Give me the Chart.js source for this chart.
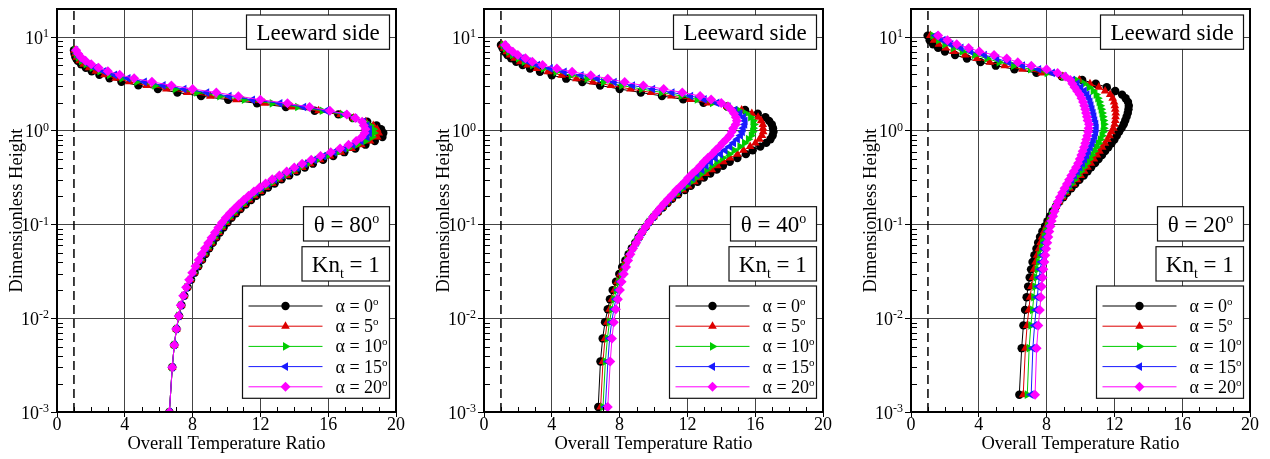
<!DOCTYPE html>
<html>
<head>
<meta charset="utf-8">
<script src="https://cdn.jsdelivr.net/npm/chart.js@4.4.0/dist/chart.umd.min.js"></script>
<style>
  body { margin: 0; background: #fff; width: 1270px; height: 459px; position: relative; overflow: hidden; }
  canvas { position: absolute; top: 0; }
</style>
</head>
<body>
<canvas id="theta80" width="420" height="459" style="left:0px"></canvas>
<canvas id="theta40" width="420" height="459" style="left:420px"></canvas>
<canvas id="theta20" width="430" height="459" style="left:840px"></canvas>
<script>
// ---- axes ----
const xTicks = [0, 4, 8, 12, 16, 20];
const yTicks = [0.001, 0.01, 0.1, 1, 10];
const yExps = ['-3', '-2', '-1', '0', '1'];
const yMin = 0.001, yMax = 20;
const wallRatio = 1;   // dashed reference line
const alphas = ['0', '5', '10', '15', '20'];

// ---- theta = 80 deg ----
const h80 = [0.001, 0.003, 0.0052, 0.0077, 0.0106, 0.0138, 0.0174, 0.0214, 0.0258, 0.0306,
  0.036, 0.042, 0.0486, 0.0558, 0.0638, 0.0726, 0.0823, 0.093, 0.105, 0.118,
  0.132, 0.147, 0.164, 0.183, 0.203, 0.225, 0.249, 0.275, 0.304, 0.335,
  0.369, 0.406, 0.447, 0.492, 0.54, 0.593, 0.65, 0.713, 0.78, 0.86,
  0.95, 1.04, 1.14, 1.25, 1.37, 1.5, 1.64, 1.8, 1.97, 2.15,
  2.35, 2.57, 2.8, 3.06, 3.34, 3.64, 3.97, 4.33, 4.72, 5.15,
  5.6, 6.1, 6.65, 7.25];
const t80a0 = [6.63, 6.80, 6.92, 7.05, 7.20, 7.34, 7.51, 7.70, 7.91, 8.12,
  8.34, 8.56, 8.77, 8.98, 9.19, 9.40, 9.61, 9.83, 10.06, 10.30,
  10.56, 10.83, 11.13, 11.45, 11.76, 12.10, 12.45, 12.84, 13.25, 13.70,
  14.15, 14.62, 15.10, 15.70, 16.30, 16.95, 17.60, 18.20, 18.75, 19.20,
  19.25, 19.12, 18.85, 18.30, 17.45, 16.60, 15.20, 13.50, 11.80, 10.10,
  8.50, 7.10, 5.95, 4.80, 3.80, 3.10, 2.50, 2.05, 1.70, 1.42,
  1.22, 1.09, 1.03, 1.00];
const t80a5 = [6.63, 6.80, 6.92, 7.05, 7.20, 7.33, 7.50, 7.68, 7.88, 8.08,
  8.30, 8.51, 8.71, 8.92, 9.12, 9.33, 9.54, 9.75, 9.98, 10.22,
  10.47, 10.74, 11.03, 11.34, 11.65, 11.98, 12.33, 12.71, 13.11, 13.56,
  14.00, 14.47, 14.94, 15.52, 16.11, 16.75, 17.38, 17.95, 18.47, 18.90,
  18.98, 18.89, 18.66, 18.22, 17.49, 16.73, 15.43, 13.85, 12.25, 10.58,
  9.05, 7.68, 6.46, 5.29, 4.25, 3.46, 2.80, 2.29, 1.89, 1.57,
  1.34, 1.17, 1.09, 1.03];
const t80a10 = [6.63, 6.80, 6.92, 7.05, 7.19, 7.32, 7.48, 7.66, 7.86, 8.05,
  8.26, 8.46, 8.66, 8.86, 9.06, 9.26, 9.47, 9.68, 9.90, 10.13,
  10.38, 10.64, 10.93, 11.23, 11.53, 11.86, 12.20, 12.58, 12.98, 13.41,
  13.85, 14.31, 14.78, 15.35, 15.93, 16.55, 17.15, 17.70, 18.20, 18.59,
  18.70, 18.66, 18.48, 18.15, 17.53, 16.85, 15.65, 14.20, 12.70, 11.05,
  9.60, 8.25, 6.98, 5.78, 4.70, 3.83, 3.10, 2.53, 2.08, 1.72,
  1.45, 1.26, 1.14, 1.07];
const t80a15 = [6.63, 6.80, 6.92, 7.04, 7.19, 7.31, 7.47, 7.64, 7.83, 8.02,
  8.21, 8.41, 8.60, 8.79, 8.99, 9.19, 9.39, 9.60, 9.82, 10.05,
  10.29, 10.55, 10.83, 11.12, 11.42, 11.74, 12.08, 12.44, 12.84, 13.27,
  13.70, 14.16, 14.62, 15.18, 15.74, 16.35, 16.93, 17.45, 17.93, 18.29,
  18.43, 18.43, 18.29, 18.08, 17.56, 16.98, 15.88, 14.55, 13.15, 11.53,
  10.15, 8.83, 7.49, 6.26, 5.15, 4.19, 3.40, 2.76, 2.26, 1.87,
  1.57, 1.34, 1.20, 1.10];
const t80a20 = [6.63, 6.80, 6.92, 7.04, 7.18, 7.30, 7.45, 7.62, 7.80, 7.98,
  8.17, 8.36, 8.54, 8.73, 8.92, 9.12, 9.32, 9.52, 9.74, 9.96,
  10.20, 10.45, 10.72, 11.01, 11.30, 11.62, 11.95, 12.31, 12.70, 13.12,
  13.55, 14.00, 14.46, 15.00, 15.55, 16.15, 16.70, 17.20, 17.65, 17.98,
  18.15, 18.20, 18.10, 18.00, 17.60, 17.10, 16.10, 14.90, 13.60, 12.00,
  10.70, 9.40, 8.00, 6.75, 5.60, 4.55, 3.70, 3.00, 2.45, 2.02,
  1.68, 1.42, 1.25, 1.13];

// ---- theta = 40 deg ----
const h40 = [0.00113, 0.00346, 0.0061, 0.0091, 0.0125, 0.016, 0.020, 0.0246, 0.0297, 0.0352,
  0.0414, 0.0483, 0.0559, 0.0642, 0.0734, 0.0835, 0.0946, 0.107, 0.121, 0.136,
  0.152, 0.17, 0.189, 0.21, 0.234, 0.259, 0.287, 0.317, 0.35, 0.386,
  0.425, 0.468, 0.514, 0.565, 0.62, 0.68, 0.745, 0.816, 0.893, 0.977,
  1.07, 1.17, 1.28, 1.4, 1.53, 1.67, 1.82, 1.99, 2.17, 2.36,
  2.57, 2.8, 3.05, 3.32, 3.61, 3.93, 4.27, 4.64, 5.04, 5.48,
  5.95, 6.46, 7.01, 7.6, 8.25];
const t40a0 = [6.74, 6.87, 7.00, 7.14, 7.30, 7.43, 7.59, 7.79, 7.98, 8.15,
  8.34, 8.53, 8.72, 8.92, 9.12, 9.32, 9.54, 9.75, 10.00, 10.27,
  10.55, 10.83, 11.10, 11.45, 11.85, 12.20, 12.60, 12.97, 13.35, 13.73,
  14.10, 14.50, 14.95, 15.45, 15.85, 16.30, 16.65, 16.90, 17.03, 17.08,
  17.05, 16.98, 16.82, 16.60, 16.15, 15.40, 14.35, 12.95, 11.75, 10.50,
  9.25, 8.00, 6.85, 5.80, 4.85, 4.00, 3.30, 2.72, 2.28, 1.90,
  1.60, 1.38, 1.22, 1.10, 1.00];
const t40a5 = [6.88, 7.02, 7.14, 7.27, 7.42, 7.55, 7.70, 7.87, 8.05, 8.21,
  8.38, 8.56, 8.74, 8.94, 9.13, 9.32, 9.54, 9.75, 10.00, 10.25,
  10.52, 10.79, 11.05, 11.37, 11.73, 12.05, 12.41, 12.74, 13.09, 13.44,
  13.77, 14.12, 14.51, 14.95, 15.31, 15.70, 16.01, 16.25, 16.40, 16.47,
  16.46, 16.45, 16.35, 16.17, 15.80, 15.20, 14.36, 13.21, 12.16, 11.06,
  9.86, 8.65, 7.49, 6.43, 5.46, 4.58, 3.78, 3.12, 2.57, 2.14,
  1.81, 1.54, 1.34, 1.18, 1.06];
const t40a10 = [7.02, 7.16, 7.28, 7.40, 7.54, 7.67, 7.81, 7.96, 8.12, 8.27,
  8.42, 8.59, 8.76, 8.95, 9.14, 9.33, 9.54, 9.75, 9.99, 10.24,
  10.49, 10.74, 10.99, 11.29, 11.60, 11.90, 12.23, 12.51, 12.83, 13.14,
  13.44, 13.74, 14.08, 14.45, 14.76, 15.10, 15.37, 15.60, 15.77, 15.85,
  15.88, 15.92, 15.87, 15.73, 15.45, 15.00, 14.38, 13.48, 12.58, 11.63,
  10.48, 9.30, 8.13, 7.05, 6.08, 5.15, 4.25, 3.51, 2.87, 2.38,
  2.03, 1.69, 1.46, 1.26, 1.13];
const t40a15 = [7.16, 7.31, 7.41, 7.53, 7.66, 7.78, 7.91, 8.04, 8.18, 8.32,
  8.46, 8.61, 8.78, 8.97, 9.14, 9.33, 9.53, 9.75, 9.98, 10.22,
  10.45, 10.70, 10.94, 11.20, 11.48, 11.75, 12.04, 12.28, 12.56, 12.85,
  13.10, 13.36, 13.64, 13.95, 14.22, 14.50, 14.72, 14.95, 15.13, 15.24,
  15.29, 15.38, 15.40, 15.30, 15.10, 14.80, 14.39, 13.74, 12.99, 12.19,
  11.09, 9.95, 8.76, 7.68, 6.69, 5.73, 4.73, 3.91, 3.16, 2.61,
  2.24, 1.85, 1.58, 1.34, 1.19];
const t40a20 = [7.30, 7.45, 7.55, 7.66, 7.78, 7.90, 8.02, 8.12, 8.25, 8.38,
  8.50, 8.64, 8.80, 8.98, 9.15, 9.33, 9.53, 9.75, 9.98, 10.20,
  10.42, 10.65, 10.88, 11.12, 11.35, 11.60, 11.85, 12.05, 12.30, 12.55,
  12.77, 12.98, 13.20, 13.45, 13.67, 13.90, 14.08, 14.30, 14.50, 14.62,
  14.70, 14.85, 14.92, 14.86, 14.75, 14.60, 14.40, 14.00, 13.40, 12.75,
  11.70, 10.60, 9.40, 8.30, 7.30, 6.30, 5.20, 4.30, 3.45, 2.85,
  2.45, 2.00, 1.70, 1.42, 1.25];

// ---- theta = 20 deg ----
const h20 = [0.00153, 0.0048, 0.0084, 0.0123, 0.0168, 0.0218, 0.0273, 0.0333, 0.0399, 0.0472,
  0.0552, 0.064, 0.0737, 0.0844, 0.0961, 0.109, 0.123, 0.139, 0.156, 0.175,
  0.196, 0.219, 0.244, 0.271, 0.301, 0.334, 0.37, 0.41, 0.453, 0.5,
  0.552, 0.608, 0.67, 0.737, 0.81, 0.89, 0.978, 1.07, 1.18, 1.29,
  1.42, 1.55, 1.7, 1.86, 2.04, 2.23, 2.44, 2.67, 2.92, 3.19,
  3.49, 3.81, 4.16, 4.55, 4.97, 5.42, 5.92, 6.46, 7.05, 7.69,
  8.39, 9.3, 10.4];
const t20a0 = [6.39, 6.53, 6.63, 6.73, 6.82, 6.91, 7.00, 7.08, 7.17, 7.28,
  7.40, 7.50, 7.61, 7.75, 7.91, 8.05, 8.20, 8.36, 8.55, 8.75,
  8.99, 9.21, 9.46, 9.69, 9.94, 10.19, 10.42, 10.63, 10.86, 11.07,
  11.27, 11.45, 11.64, 11.83, 12.00, 12.14, 12.28, 12.42, 12.55, 12.64,
  12.72, 12.79, 12.83, 12.85, 12.80, 12.66, 12.45, 12.05, 11.55, 10.90,
  10.10, 8.90, 7.40, 6.10, 5.00, 4.10, 3.30, 2.60, 2.00, 1.60,
  1.30, 1.10, 0.98];
const t20a5 = [6.62, 6.75, 6.85, 6.95, 7.03, 7.11, 7.19, 7.26, 7.35, 7.44,
  7.55, 7.64, 7.73, 7.85, 7.99, 8.11, 8.25, 8.39, 8.55, 8.73,
  8.94, 9.14, 9.36, 9.57, 9.79, 10.01, 10.22, 10.41, 10.61, 10.79,
  10.97, 11.12, 11.28, 11.44, 11.59, 11.71, 11.82, 11.94, 12.01, 12.05,
  12.07, 12.08, 12.05, 12.03, 11.98, 11.90, 11.75, 11.45, 11.08, 10.56,
  9.93, 8.95, 7.71, 6.58, 5.53, 4.65, 3.89, 3.18, 2.51, 2.05,
  1.65, 1.36, 1.14];
const t20a10 = [6.86, 6.97, 7.07, 7.17, 7.24, 7.31, 7.38, 7.45, 7.52, 7.60,
  7.69, 7.77, 7.86, 7.96, 8.07, 8.18, 8.29, 8.42, 8.56, 8.71,
  8.89, 9.07, 9.26, 9.45, 9.64, 9.83, 10.01, 10.19, 10.36, 10.52,
  10.66, 10.79, 10.93, 11.06, 11.17, 11.27, 11.33, 11.37, 11.38, 11.35,
  11.31, 11.27, 11.22, 11.16, 11.10, 11.02, 10.92, 10.75, 10.50, 10.21,
  9.75, 9.00, 8.03, 7.05, 6.05, 5.20, 4.48, 3.75, 3.02, 2.50,
  2.00, 1.63, 1.29];
const t20a15 = [7.09, 7.19, 7.29, 7.38, 7.45, 7.51, 7.57, 7.63, 7.70, 7.76,
  7.84, 7.91, 7.98, 8.06, 8.15, 8.24, 8.34, 8.44, 8.56, 8.68,
  8.83, 8.99, 9.16, 9.32, 9.48, 9.64, 9.81, 9.96, 10.11, 10.24,
  10.36, 10.46, 10.57, 10.67, 10.76, 10.84, 10.89, 10.92, 10.90, 10.84,
  10.79, 10.74, 10.68, 10.62, 10.56, 10.48, 10.38, 10.22, 10.02, 9.80,
  9.52, 9.05, 8.34, 7.53, 6.58, 5.75, 5.06, 4.33, 3.52, 2.95,
  2.35, 1.89, 1.45];
const t20a20 = [7.32, 7.41, 7.51, 7.60, 7.66, 7.71, 7.76, 7.81, 7.87, 7.92,
  7.98, 8.04, 8.10, 8.16, 8.23, 8.30, 8.38, 8.47, 8.56, 8.66,
  8.78, 8.92, 9.06, 9.20, 9.33, 9.46, 9.60, 9.74, 9.86, 9.96,
  10.05, 10.13, 10.21, 10.28, 10.34, 10.40, 10.45, 10.48, 10.50, 10.42,
  10.38, 10.33, 10.28, 10.22, 10.15, 10.06, 9.95, 9.80, 9.65, 9.52,
  9.40, 9.10, 8.65, 8.00, 7.10, 6.30, 5.65, 4.90, 4.03, 3.40,
  2.70, 2.15, 1.60];

// ---- look ----
const FONT = "'Liberation Serif', 'Times New Roman', serif";
const seriesColors = ['#000000', '#dd0000', '#00cc00', '#1a1aff', '#ff00ff'];
const pointStyles = ['circle', 'triangle', 'triangle', 'triangle', 'rectRot'];
const pointRotations = [0, 0, 90, -90, 0];
const pointSizes = [4.2, 5, 5, 5, 5];
const gridColor = '#444444';

function richText(ctx, parts, x, y, align) {
  let w = 0;
  parts.forEach(p => { ctx.font = p[1] + 'px ' + FONT; w += ctx.measureText(p[0]).width; });
  let cx = align === 'center' ? x - w / 2 : align === 'right' ? x - w : x;
  ctx.textAlign = 'left';
  ctx.textBaseline = 'alphabetic';
  ctx.fillStyle = '#000';
  parts.forEach(p => {
    ctx.font = p[1] + 'px ' + FONT;
    ctx.fillText(p[0], cx, y + (p[2] || 0));
    cx += ctx.measureText(p[0]).width;
  });
}

function drawMarker(ctx, style, x, y, r, rot, color) {
  ctx.save();
  ctx.fillStyle = color;
  ctx.translate(x, y);
  ctx.rotate(rot * Math.PI / 180);
  ctx.beginPath();
  if (style === 'circle') {
    ctx.arc(0, 0, r, 0, Math.PI * 2);
  } else if (style === 'triangle') {
    for (let k = 0; k < 3; k++) {
      const a = k * 2 * Math.PI / 3;
      ctx.lineTo(r * Math.sin(a), -r * Math.cos(a));
    }
  } else {
    ctx.moveTo(-r, 0); ctx.lineTo(0, -r); ctx.lineTo(r, 0); ctx.lineTo(0, r);
  }
  ctx.closePath();
  ctx.fill();
  ctx.restore();
}

function box(ctx, x, y, w, h) {
  ctx.fillStyle = '#fff';
  ctx.fillRect(x, y, w, h);
  ctx.strokeStyle = '#111';
  ctx.lineWidth = 1.2;
  ctx.strokeRect(x, y, w, h);
}

function decorPlugin(theta) {
  return {
    id: 'panelDecor',
    afterDatasetsDraw(chart) {
      const { ctx, chartArea: a, scales: { x, y } } = chart;
      ctx.save();

      // minor ticks, pointing inward
      ctx.strokeStyle = '#000';
      ctx.lineWidth = 1;
      ctx.beginPath();
      for (let v = 1; v < 20; v++) {
        if (v % 4 === 0) continue;
        const px = Math.round(x.getPixelForValue(v)) + 0.5;
        ctx.moveTo(px, a.bottom); ctx.lineTo(px, a.bottom - 5);
      }
      for (let d = -3; d <= 1; d++) {
        for (let m = 2; m <= 9; m++) {
          const v = m * Math.pow(10, d);
          if (v >= yMax) continue;
          const py = Math.round(y.getPixelForValue(v)) + 0.5;
          ctx.moveTo(a.left, py); ctx.lineTo(a.left + 6, py);
        }
      }
      ctx.stroke();

      // frame
      ctx.lineWidth = 2;
      ctx.strokeRect(a.left, a.top, a.right - a.left, a.bottom - a.top);

      // tick labels
      yTicks.forEach((v, i) => {
        const py = y.getPixelForValue(v);
        richText(ctx, [['10', 18, 0], [yExps[i], 12, -6.5]], a.left - 8, py + 6.5, 'right');
      });
      xTicks.forEach(v => {
        richText(ctx, [[String(v), 18, 0]], x.getPixelForValue(v), a.bottom + 18, 'center');
      });

      // axis titles
      richText(ctx, [['Overall Temperature Ratio', 18.5, 0]], (a.left + a.right) / 2, a.bottom + 37, 'center');
      ctx.save();
      ctx.translate(a.left - 35, (a.top + a.bottom) / 2);
      ctx.rotate(-Math.PI / 2);
      richText(ctx, [['Dimensionless Height', 18.5, 0]], 0, 0, 'center');
      ctx.restore();

      // text boxes
      const R = a.right - 6.5;
      box(ctx, R - 143, a.top + 6, 143, 34.3);
      richText(ctx, [['Leeward side', 23, 0]], R - 71.5, a.top + 31, 'center');
      box(ctx, R - 86, a.top + 197.7, 86, 34.3);
      richText(ctx, [['\u03b8 = ' + theta, 23, 0], ['o', 14, -9]], R - 43, a.top + 222.5, 'center');
      box(ctx, R - 87.5, a.top + 237.7, 87.5, 34.3);
      richText(ctx, [['Kn', 23, 0], ['t', 14, 6.5], [' = 1', 23, 0]], R - 43.7, a.top + 262.5, 'center');

      // legend
      const L = R - 147;
      box(ctx, L, a.top + 277, 147, 112.3);
      chart.data.datasets.forEach((ds, k) => {
        if (k >= alphas.length) return;
        const ry = a.top + 297 + k * 20.2;
        ctx.strokeStyle = seriesColors[k];
        ctx.lineWidth = 1;
        ctx.beginPath();
        ctx.moveTo(L + 6, ry); ctx.lineTo(L + 80, ry);
        ctx.stroke();
        drawMarker(ctx, pointStyles[k], L + 43, ry, pointSizes[k], pointRotations[k], seriesColors[k]);
        richText(ctx, [['\u03b1 = ' + alphas[k], 18, 0], ['o', 11, -7]], L + 93, ry + 6, 'left');
      });
      ctx.restore();
    }
  };
}

function makePanel(canvasId, theta, heights, temps, leftEdge, rightPad) {
  const datasets = temps.map((t, k) => ({
    label: '\u03b1 = ' + alphas[k],
    data: heights.map((h, i) => ({ x: t[i], y: h })),
    borderColor: seriesColors[k],
    backgroundColor: seriesColors[k],
    borderWidth: 1,
    pointStyle: pointStyles[k],
    pointRotation: pointRotations[k],
    pointRadius: pointSizes[k],
    pointBorderWidth: 0,
    tension: 0,
    order: temps.length - k
  }));
  datasets.push({
    label: 'wall',
    data: [{ x: wallRatio, y: yMin }, { x: wallRatio, y: yMax }],
    borderColor: '#000',
    borderWidth: 1.5,
    borderDash: [9, 5],
    pointRadius: 0,
    order: 99
  });

  new Chart(document.getElementById(canvasId), {
    type: 'line',
    data: { datasets: datasets },
    options: {
      responsive: false,
      animation: false,
      events: [],
      layout: { padding: { left: 0, right: rightPad, top: 9, bottom: 0 } },
      plugins: { legend: { display: false }, tooltip: { enabled: false } },
      scales: {
        x: {
          type: 'linear',
          min: 0, max: 20,
          afterBuildTicks: s => { s.ticks = xTicks.map(v => ({ value: v })); },
          afterFit: s => { s.height = 47; },
          ticks: { display: false },
          grid: { color: gridColor, lineWidth: 1, tickLength: 5, tickColor: '#000', drawTicks: true },
          border: { display: false }
        },
        y: {
          type: 'logarithmic',
          min: yMin, max: yMax,
          afterBuildTicks: s => { s.ticks = yTicks.map(v => ({ value: v })); },
          afterFit: s => { s.width = leftEdge; },
          ticks: { display: false },
          grid: { color: gridColor, lineWidth: 1, tickLength: 6, tickColor: '#000', drawTicks: true },
          border: { display: false }
        }
      }
    },
    plugins: [decorPlugin(theta)]
  });
}

makePanel('theta80', '80', h80, [t80a0, t80a5, t80a10, t80a15, t80a20], 57, 24);
makePanel('theta40', '40', h40, [t40a0, t40a5, t40a10, t40a15, t40a20], 64, 17);
makePanel('theta20', '20', h20, [t20a0, t20a5, t20a10, t20a15, t20a20], 71, 20);
</script>
</body>
</html>
